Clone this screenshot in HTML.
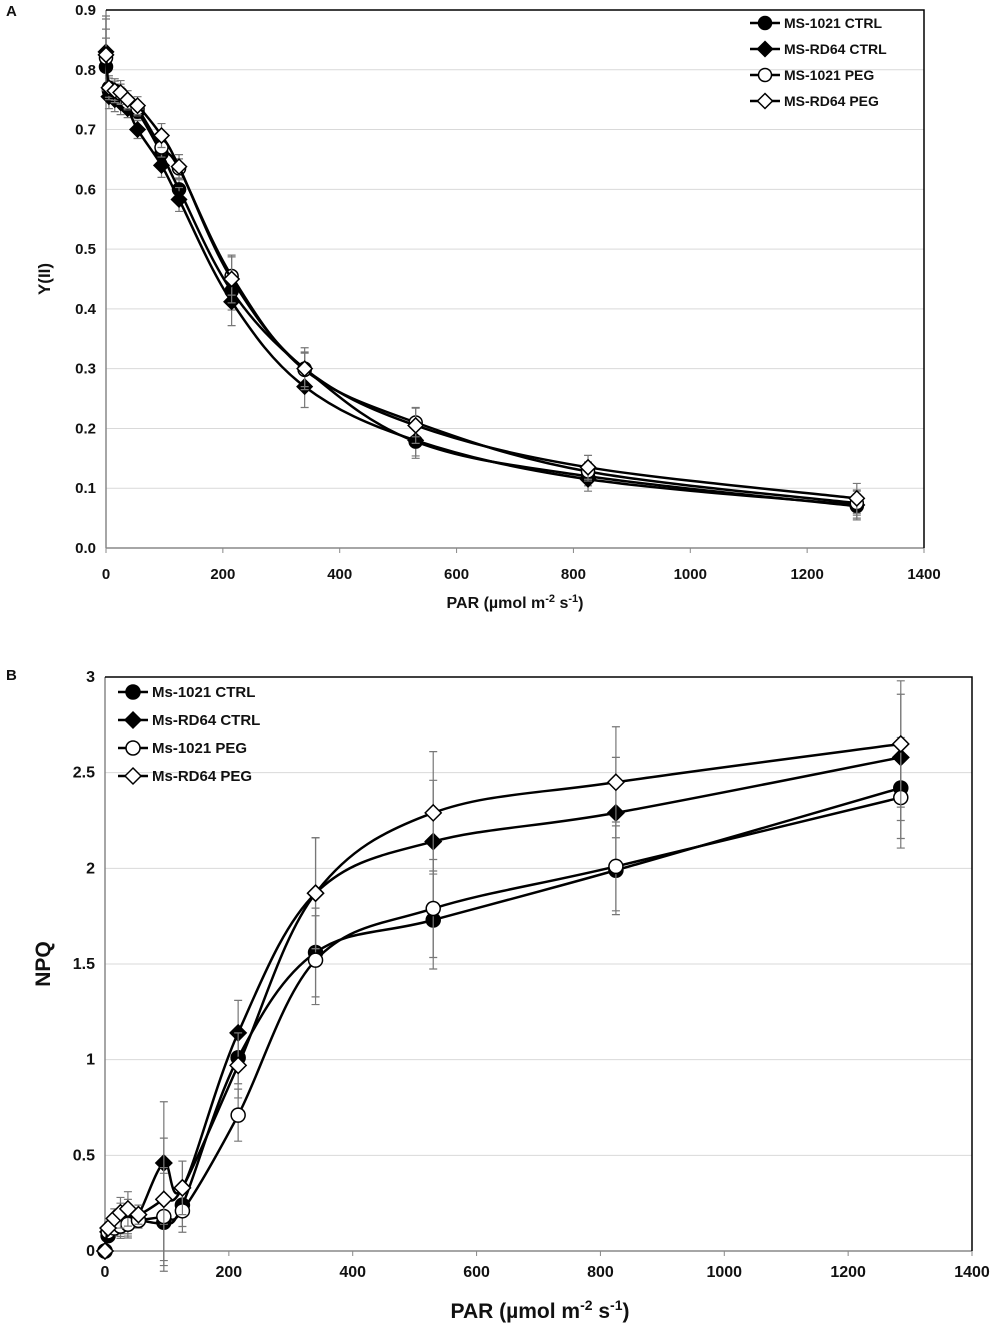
<!DOCTYPE html>
<html><head><meta charset="utf-8"><style>
body{margin:0;background:#fff;}
svg text{font-family:"Liberation Sans",Arial,sans-serif;font-weight:bold;fill:#111;}
</style></head><body>
<svg id="s" width="1000" height="1328" xmlns="http://www.w3.org/2000/svg"></svg>
<script>
const par=[0,5,15,25,37,54,95,125,215,340,530,825,1285];
const aC1021=[0.805,0.765,0.76,0.755,0.74,0.73,0.66,0.60,0.43,0.30,0.178,0.12,0.07];
const aCRD64=[0.83,0.755,0.75,0.745,0.735,0.70,0.64,0.583,0.412,0.27,0.18,0.115,0.072];
const aP1021=[0.82,0.77,0.765,0.76,0.745,0.735,0.67,0.635,0.455,0.298,0.21,0.128,0.075];
const aPRD64=[0.825,0.77,0.765,0.762,0.75,0.74,0.69,0.638,0.45,0.30,0.205,0.135,0.083];
const aErr=[0.06,0.02,0.02,0.02,0.015,0.015,0.02,0.02,0.04,0.035,0.03,0.02,0.025];
const bC1021=[0,0.08,0.12,0.14,0.15,0.16,0.15,0.24,1.01,1.56,1.73,1.99,2.42];
const bCRD64=[0,0.1,0.14,0.17,0.18,0.19,0.46,0.33,1.14,1.87,2.14,2.29,2.58];
const bP1021=[0,0.1,0.12,0.13,0.14,0.16,0.18,0.21,0.71,1.52,1.79,2.01,2.37];
const bPRD64=[0,0.12,0.17,0.2,0.22,0.19,0.27,0.33,0.97,1.87,2.29,2.45,2.65];
const bErr=[0,0.03,0.05,0.08,0.09,0.05,0.32,0.14,0.17,0.29,0.32,0.29,0.33];
const aYTicks=["0.0","0.1","0.2","0.3","0.4","0.5","0.6","0.7","0.8","0.9"];
const bYTicks=["0","0.5","1","1.5","2","2.5","3"];
const xTicks=[0,200,400,600,800,1000,1200,1400];
const legA=["MS-1021 CTRL","MS-RD64 CTRL","MS-1021 PEG","MS-RD64 PEG"];
const legB=["Ms-1021 CTRL","Ms-RD64 CTRL","Ms-1021 PEG","Ms-RD64 PEG"];
const mk=["fc","fd","oc","od"];
const svg=document.getElementById('s');const NS="http://www.w3.org/2000/svg";
function el(t,a,p){const e=document.createElementNS(NS,t);for(const k in a)e.setAttribute(k,a[k]);(p||svg).appendChild(e);return e;}
function smooth(pts){let d=`M${pts[0][0]},${pts[0][1]}`;for(let i=0;i<pts.length-1;i++){const p0=pts[Math.max(0,i-1)],p1=pts[i],p2=pts[i+1],p3=pts[Math.min(pts.length-1,i+2)];const t=0.17;d+=` C${p1[0]+(p2[0]-p0[0])*t},${p1[1]+(p2[1]-p0[1])*t} ${p2[0]-(p3[0]-p1[0])*t},${p2[1]-(p3[1]-p1[1])*t} ${p2[0]},${p2[1]}`;}return d;}
function marker(g,type,x,y,r){if(type[1]=='c')el('circle',{cx:x,cy:y,r:r,fill:type[0]=='f'?'#000':'#fff',stroke:'#000','stroke-width':1.5},g);else el('polygon',{points:`${x},${y-r-1} ${x+r+1},${y} ${x},${y+r+1} ${x-r-1},${y}`,fill:type[0]=='f'?'#000':'#fff',stroke:'#000','stroke-width':1.5},g);}
function chart(o){
 const X=v=>o.x0+v*(o.x1-o.x0)/1400, Y=v=>o.y0-v*(o.y0-o.y1)/o.ymax;
 const g=el('g',{});
 o.yt.forEach(t=>{const y=Y(+t);if(+t>0&&+t<o.ymax)el('line',{x1:o.x0,x2:o.x1,y1:y,y2:y,stroke:'#d9d9d9','stroke-width':1},g);
  const tx=el('text',{x:o.x0-10,y:y+5,'text-anchor':'end','font-size':o.tf},g);tx.textContent=t;});
 xTicks.forEach(t=>{const x=X(t);el('line',{x1:x,x2:x,y1:o.y0,y2:o.y0+5,stroke:'#888'},g);
  const tx=el('text',{x:x,y:o.y0+o.xto,'text-anchor':'middle','font-size':o.tf},g);tx.textContent=t;});
 el('line',{x1:o.x0,x2:o.x1,y1:o.y0,y2:o.y0,stroke:'#888','stroke-width':1.5},g);
 el('line',{x1:o.x0,x2:o.x0,y1:o.y0,y2:o.y1,stroke:'#888','stroke-width':1.5},g);
 el('polyline',{points:`${o.x0},${o.y1} ${o.x1},${o.y1} ${o.x1},${o.y0}`,fill:'none',stroke:'#000','stroke-width':1.5},g);
 o.series.forEach((s,si)=>{const pts=par.map((p,i)=>[X(p),Y(s[i])]);
  const sg=el('g',{},g);
  par.forEach((p,i)=>{const e=o.err[i]*(si%2?1:0.8);if(e>0){const x=X(p),ya=Y(s[i]+e),yb=Y(s[i]-e);el('path',{d:`M${x},${ya}V${yb}M${x-4},${ya}h8M${x-4},${yb}h8`,stroke:'#777','stroke-width':1.2,fill:'none'},sg);}});
  el('path',{d:smooth(pts),fill:'none',stroke:'#000','stroke-width':2.5},sg);
  pts.forEach(p=>marker(sg,mk[si],p[0],p[1],o.mr));});
 o.leg.forEach((l,i)=>{const y=o.ly+i*o.lh;const lg=el('g',{},g);
  el('line',{x1:o.lx,x2:o.lx+30,y1:y,y2:y,stroke:'#000','stroke-width':2.5},lg);marker(lg,mk[i],o.lx+15,y,o.mr);
  const t=el('text',{x:o.lx+34,y:y+5,'font-size':o.lf},lg);t.textContent=l;});
 return {X,Y};
}
chart({name:'chart-a',x0:106,x1:924,y0:548,y1:10,ymax:0.9,yt:aYTicks,tf:15,xto:31,series:[aC1021,aCRD64,aP1021,aPRD64],err:aErr,leg:legA,lx:750,ly:23,lh:26,lf:14,mr:6.5});
chart({name:'chart-b',x0:105,x1:972,y0:1251,y1:677,ymax:3,yt:bYTicks,tf:16,xto:26,series:[bC1021,bCRD64,bP1021,bPRD64],err:bErr,leg:legB,lx:118,ly:692,lh:28,lf:15,mr:7});
function txt(s,a,name){const t=el('text',a);t.textContent=s;return t;}
txt('A',{x:6,y:16,'font-size':15},'panel-label-a');
txt('B',{x:6,y:680,'font-size':15},'panel-label-b');
const xa=txt('PAR',{x:515,y:608,'text-anchor':'middle','font-size':16},'x-axis-title-a');
xa.innerHTML='PAR (µmol m<tspan dy="-6" font-size="11">-2</tspan><tspan dy="6"> s</tspan><tspan dy="-6" font-size="11">-1</tspan><tspan dy="6">)</tspan>';
txt('Y(II)',{x:0,y:0,'text-anchor':'middle','font-size':17,transform:'translate(50,279) rotate(-90)'},'y-axis-title-a');
const xb=txt('PAR',{x:540,y:1318,'text-anchor':'middle','font-size':21},'x-axis-title-b');
xb.innerHTML='PAR (µmol m<tspan dy="-8" font-size="14">-2</tspan><tspan dy="8"> s</tspan><tspan dy="-8" font-size="14">-1</tspan><tspan dy="8">)</tspan>';
txt('NPQ',{x:0,y:0,'text-anchor':'middle','font-size':21,transform:'translate(50,964) rotate(-90)'},'y-axis-title-b');
</script>
</body></html>
